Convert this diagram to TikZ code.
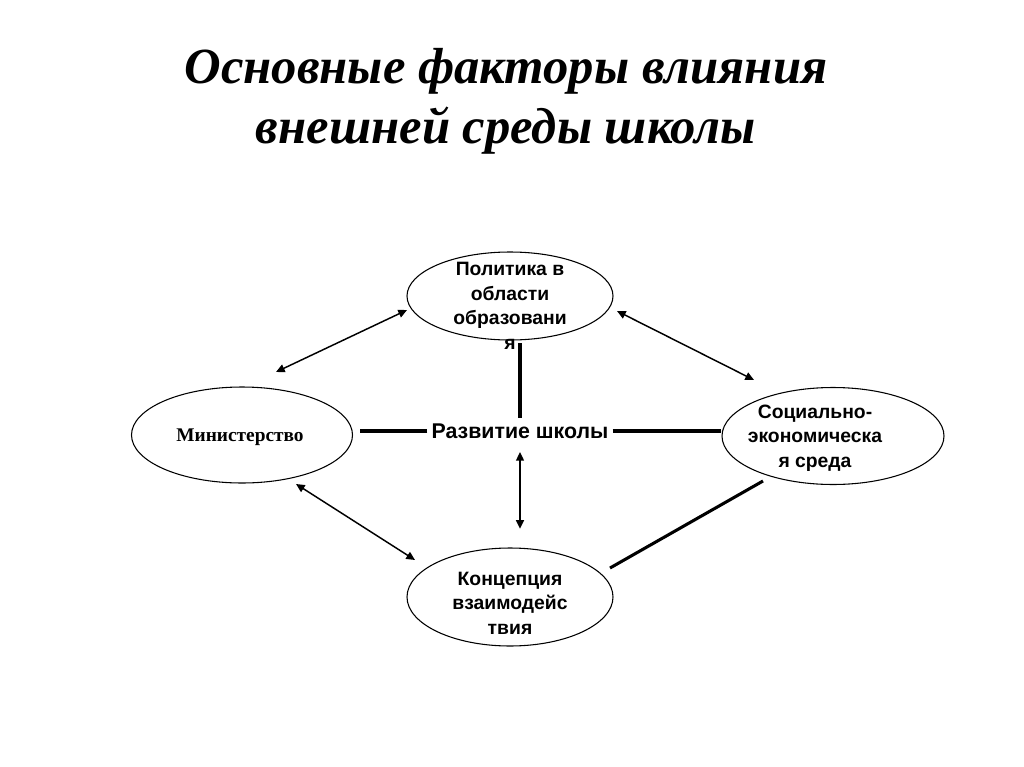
\documentclass[tikz,border=0pt]{standalone}
\usepackage{fontspec}
\setmainfont{Liberation Serif}
\setsansfont{Liberation Sans}
\usetikzlibrary{shapes.geometric}
\usetikzlibrary{arrows.meta}

\tikzset{
  oval/.style={draw,ellipse,line width=0.8pt,inner sep=0pt},
  ovaltext/.style={font=\sffamily\bfseries\fontsize{14.5}{18.4}\selectfont,align=center},
  twoway/.style={{Triangle[length=6.5pt,width=6pt]}-{Triangle[length=6.5pt,width=6pt]},line width=1.1pt},
  thick line/.style={line width=2.3pt}
}

\begin{document}
\begin{tikzpicture}[x=0.75pt,y=-0.75pt]
        \useasboundingbox (0,0) rectangle (1024,767);

        % Title
        \node[font=\rmfamily\bfseries\itshape\fontsize{38}{45}\selectfont,align=center] (title) at (506,101)
          {Основные факторы влияния\\внешней среды школы};

        % Ellipses
        \node[oval,minimum width=206*0.75pt,minimum height=88*0.75pt] (pol) at (510,296) {};
        \node[oval,minimum width=221*0.75pt,minimum height=96*0.75pt] (min) at (242,435) {};
        \node[oval,minimum width=222*0.75pt,minimum height=97*0.75pt] (soc) at (833,436) {};
        \node[oval,minimum width=206*0.75pt,minimum height=98*0.75pt] (kon) at (510,597) {};

        % Texts
        \node[ovaltext] (poltext) at (510,306) {Политика в\\области\\образовани\\я};
        \node[font=\rmfamily\bfseries\fontsize{14.5}{18}\selectfont] (mintext) at (240,437) {Министерство};
        \node[ovaltext] (soctext) at (815,438) {Социально-\\экономическа\\я среда};
        \node[ovaltext] (kontext) at (510,603) {Концепция\\взаимодейс\\твия};
        \node[font=\sffamily\bfseries\fontsize{16}{18}\selectfont,inner xsep=3pt,inner ysep=0pt] (dev) at (520,431) {Развитие школы};

        % Lines to the centre
        \draw[thick line,shorten >=5pt] (dev.west) -- (dev.west -| min.east);
        \draw[thick line] (dev.east) -- (dev.east -| soc.west);
        \draw[thick line,shorten <=4pt,shorten >=1.5pt] (dev.north) -- (dev.north |- pol.south);
        \draw[twoway,shorten <=10pt,shorten >=14pt] (dev.south) -- (dev.south |- kon.north);

        % Arrows between the ellipses
        \coordinate (polW) at (407,310);
        \coordinate (minNE) at (276,372);
        \coordinate (polE) at (617,311);
        \coordinate (socNW) at (754,380);
        \coordinate (minSE) at (296,484);
        \coordinate (konNW) at (415,560);
        \coordinate (konE) at (610,568);
        \coordinate (socSW) at (763,481);
        \draw[twoway] (polW) -- (minNE);
        \draw[twoway] (polE) -- (socNW);
        \draw[twoway] (minSE) -- (konNW);
        \draw[thick line] (konE) -- (socSW);
    \end{tikzpicture}
\end{document}
